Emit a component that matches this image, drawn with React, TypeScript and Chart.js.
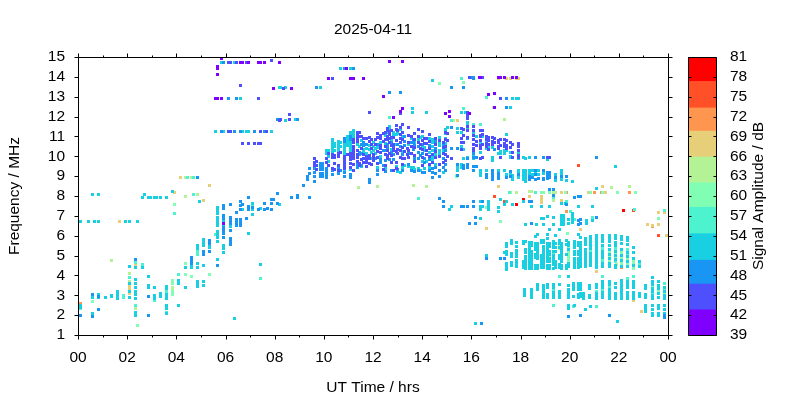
import React, { useEffect, useRef } from "react";
import { Chart, registerables } from "chart.js";

Chart.register(...registerables);

type Col = number[]; // [hour, MHz, MHz, ...]

const chartTitle = "2025-04-11";
const xTitle = "UT Time / hrs";
const yTitle = "Frequency / MHz";
const barTitle = "Signal Amplitude / dB";
const fontName = "'Liberation Sans', Arial, sans-serif";
const fontPx = 15.5;

const bandEdges = [39, 42.8, 46.7, 50.3, 54.3, 58.3, 62, 65.9, 69.8, 73.3, 77.3, 81];
const bandColours = ["#8000ff", "#4d50fc", "#1996f3", "#19cfe2", "#4df3ce", "#80ffb4", "#b3f396", "#e6cf78", "#ff9650", "#ff5028", "#ff0000"];

const band41: Col[] = [
  [5.83, 14.9], [6.6, 14.74], [6.68, 14.74], [6.93, 14.74], [7.34, 14.74], [7.42, 14.74], [7.58, 14.74], [8.18, 14.74],
  [5.67, 14.5, 14.4, 14.13], [7.95, 13.43], [5.59, 12.92], [5.67, 12.92], [5.83, 12.92], [12.67, 14.78], [13.2, 14.78],
  [10.92, 14.43], [10.19, 13.92], [11.08, 13.92], [11.2, 13.92], [11.61, 13.92], [16.33, 13.97], [8.68, 13.42], [12.42, 13.02],
  [13.2, 12.41], [13.12, 12.25], [14.96, 12.16], [15.1, 12.26, 12.01], [15.92, 12.16], [16.94, 12.46, 13.17], [16.37, 13.98],
  [17.1, 13.98], [17.18, 13.98], [17.35, 13.98], [17.67, 13.98], [17.83, 13.98], [16.7, 13.12], [12.83, 11.96], [5.92, 6.62],
];

const band45: Col[] = [
  [6.12, 14.74], [6.2, 14.74], [6.44, 14.74], [6.85, 14.74], [7.87, 14.83], [6.6, 13.58], [7.34, 12.92], [8.18, 11.82],
  [6.12, 11.26], [6.2, 11.26], [7.42, 11.26], [7.67, 11.26], [6.68, 10.66], [6.93, 10.66], [7.18, 10.66], [7.34, 10.66], [7.42, 10.66],
  [10.35, 13.92], [15.92, 13.95], [8.36, 13.42], [13.12, 12.17], [11.85, 12.21], [8.6, 12.11, 11.86], [8.22, 11.83], [17.18, 12.92], [16.45, 13.98],
  [9.62, 9.9, 9.7, 9.56], [9.7, 9.73, 9.56, 9.31], [10.1, 9.9, 9.7], [10.2, 10.15, 9.55], [10.35, 10.1, 9.95, 9.4],
  [10.45, 10.05, 9.95, 9.65, 9.35], [10.6, 10.15, 10.0, 9.55, 9.3], [10.67, 10.2], [10.85, 10.0, 9.85, 9.7, 9.55, 9.4], [10.95, 10.1],
  [11.1, 10.15, 10.0, 9.85, 9.65, 9.45], [11.2, 10.85, 10.7, 10.5, 10.35, 10.2, 10.05, 9.9, 9.6, 9.3], [11.37, 11.2, 11.05, 10.9, 10.75, 10.3, 10.1, 9.95, 9.75],
  [11.45, 11.2, 11.0, 9.65, 9.55], [11.6, 10.9, 10.1, 9.9, 9.7], [11.72, 10.9, 10.0, 9.85, 9.7, 9.5], [11.85, 10.95, 10.75, 10.05, 9.9, 9.65],
  [12.0, 10.1, 9.95, 9.8], [12.1, 10.85, 10.6], [12.3, 11.05, 10.9, 10.55, 10.4, 10.2], [12.42, 11.15, 10.75, 9.34],
  [12.6, 11.4, 11.3, 11.0, 10.85, 10.3, 10.05, 9.9], [12.68, 11.25, 11.1, 10.9, 10.7, 10.15], [12.85, 10.95, 10.6, 10.45, 10.3, 9.3],
  [13.0, 11.3, 10.35, 10.15], [13.12, 11.45, 11.1, 10.9, 10.7, 10.3, 9.95], [13.3, 10.25, 9.9], [13.4, 10.4, 10.1], [13.57, 11.0, 10.5, 10.15],
  [13.85, 11.35, 11.0, 10.7], [13.95, 10.6, 10.4], [14.1, 10.9, 10.65], [14.18, 10.9, 10.65, 10.3, 10.1], [14.4, 10.1, 9.7],
  [14.7, 10.8, 10.0, 9.6], [14.95, 11.2, 10.85, 10.5, 10.1, 9.8], [15.05, 11.15, 10.8, 10.0], [15.2, 9.9],
  [15.6, 11.4, 10.9, 10.7, 10.35], [15.7, 11.35, 11.05, 10.7], [15.85, 12.2, 12.05, 11.9, 11.5, 11.3, 10.95],
  [16.1, 11.5, 11.3, 11.05, 10.85, 10.6, 10.4, 10.3], [16.2, 10.75, 10.55], [16.37, 11.3, 11.05, 11.0, 10.8, 10.55, 10.4, 9.9], [16.45, 11.3, 11.1, 10.6, 9.95],
  [16.62, 11.0, 10.85, 10.65, 10.5], [16.7, 10.95, 10.8, 10.6, 10.35], [16.87, 10.95, 10.75, 10.6], [16.95, 10.9, 10.7],
  [17.1, 10.8, 10.7, 10.5, 10.4], [17.18, 10.85, 10.55, 9.93], [17.35, 10.85, 10.65, 10.5], [17.43, 10.8, 10.55, 10.4],
  [17.6, 10.7, 10.45], [17.67, 10.6, 10.2, 9.95], [17.92, 10.65, 10.5, 10.3, 10.05, 9.95], [19.1, 9.93], [19.18, 9.93],
  [11.55, 11.0, 10.4, 9.85], [11.95, 10.85, 10.6, 10.4, 9.6], [12.2, 11.15, 10.95, 10.25, 9.95, 9.65], [12.5, 11.2, 10.85, 10.5, 10.1, 9.55],
  [12.75, 11.3, 10.95, 10.55, 10.05, 9.7], [12.95, 11.55, 11.35, 10.8, 10.25, 9.7, 9.4], [13.2, 11.6, 11.2, 10.85, 10.45, 9.9, 9.6], [13.45, 11.45, 11.05, 10.7, 10.3, 9.95],
  [13.7, 11.15, 10.85, 10.45, 10.05, 9.75], [14.0, 11.25, 10.8, 10.35, 9.95, 9.55], [14.3, 11.1, 10.75, 10.4, 10.0, 9.6], [14.55, 10.9, 10.6, 10.25, 9.95], [14.85, 10.7, 10.45, 10.15, 9.7],
];

const band48: Col[] = [
  [6.44, 12.92], [6.12, 12.92], [8.13, 11.87], [5.83, 11.26], [6.36, 11.26], [6.6, 11.26], [7.18, 11.26], [7.58, 11.26],
  [4.86, 8.95], [5.92, 14.74], [10.84, 14.43], [11.2, 14.43], [16.09, 13.92], [13.12, 13.22], [9.7, 13.45], [15.19, 13.45], [15.68, 13.45], [8.93, 11.86], [12.67, 13.22],
  [15.95, 13.98], [16.09, 13.95], [17.43, 12.92, 12.47], [17.43, 12.46],
  [8.68, 7.93], [8.93, 8.03, 7.93], [9.41, 7.93], [9.17, 8.54], [9.33, 8.97, 8.81], [9.41, 9.39, 9.14], [9.62, 9.39, 9.18, 8.97, 8.74],
  [9.86, 9.64, 9.47, 9.31, 9.14, 8.97], [9.94, 9.64, 9.47, 9.31, 9.14, 8.97], [10.1, 9.4, 9.25, 9.1, 8.95], [10.35, 9.3, 9.1], [10.6, 9.45, 9.15], [10.67, 9.3],
  [10.85, 10.9, 10.75, 9.2, 9.0], [11.1, 11.0, 10.85, 9.1, 8.95], [11.37, 9.6, 9.45], [11.45, 10.2, 10.1], [11.6, 10.7, 10.55], [11.72, 10.6], [11.85, 8.84, 8.7], [12.1, 9.9],
  [12.3, 9.85, 9.7], [12.42, 10.3, 9.55], [12.6, 10.6, 10.45], [12.68, 9.85], [12.85, 10.1, 9.85], [13.0, 10.6, 9.35], [13.12, 10.5], [13.3, 11.0, 10.75, 10.55],
  [13.57, 10.7, 9.3], [13.65, 10.85, 10.7, 10.35], [13.85, 10.5, 10.2, 9.9, 9.3], [13.95, 10.05], [14.1, 9.9, 9.7, 9.2], [14.4, 9.4, 9.2, 8.95], [14.7, 9.3, 9.0],
  [14.95, 10.3, 9.6, 9.3], [15.2, 11.45, 10.4], [15.43, 10.4, 9.6, 9.05], [15.7, 9.55, 9.4], [15.85, 10.9, 9.9, 9.6, 9.45], [16.1, 10.15, 9.5, 9.3, 9.93], [16.2, 9.93, 9.5],
  [16.37, 9.9], [16.62, 9.1, 8.95], [16.87, 9.3, 9.15, 9.0, 8.85], [16.95, 10.35], [17.1, 9.15, 9.0, 8.9], [17.43, 8.95], [17.6, 9.25, 9.0], [17.92, 9.1],
  [18.36, 9.0, 8.85], [18.5, 8.95], [18.6, 9.93, 9.3, 9.1, 8.85], [18.75, 8.87], [18.93, 9.95, 9.28, 8.9, 8.85], [19.1, 9.2, 9.05, 8.9], [19.18, 9.2, 9.1, 8.95], [19.42, 8.95],
  [19.67, 9.0], [19.87, 9.0], [21.1, 9.93],
  [14.69, 7.88], [14.86, 7.73, 7.48], [15.59, 7.48], [15.67, 7.48], [15.83, 7.48], [16.08, 7.73, 7.48], [16.44, 7.73], [16.16, 6.64], [15.91, 6.59], [16.17, 6.9], [16.6, 4.87], [17.18, 4.87], [17.34, 4.87],
  [16.09, 7.74, 7.49], [16.45, 7.74], [18.36, 7.74], [18.44, 7.74, 6.6], [19.34, 8.02, 8.34], [19.18, 8.34], [20.2, 7.9], [20.44, 8.0], [20.36, 7.95], [19.87, 7.55], [20.36, 6.75, 6.55], [20.44, 6.8, 6.6], [21.1, 6.9],
  [0.1, 2.0], [0.58, 1.95], [0.83, 2.3], [0.58, 3.02], [0.83, 2.95], [2.33, 4.8], [2.86, 2.95, 2.0], [4.6, 4.9, 4.75, 4.6], [5.09, 5.2, 5.05], [5.33, 5.75, 5.6, 5.2], [5.67, 4.5],
  [5.92, 7.5, 7.35, 7.0, 6.85, 6.4, 6.25, 6.1, 5.9], [6.2, 7.58, 6.9, 6.75, 6.6, 6.25, 5.85, 5.7, 5.55], [6.44, 7.15, 6.8, 6.65, 6.5], [6.6, 7.7, 7.5, 7.3, 6.8, 6.65, 6.5], [6.68, 7.58],
  [6.85, 6.85], [6.93, 7.93, 7.45, 7.3], [7.1, 7.4], [7.34, 7.3], [7.58, 7.6, 7.3], [7.7, 7.35], [7.87, 7.8, 7.6, 7.3], [7.95, 7.83], [8.13, 8.13, 7.6],
  [19.95, 1.95], [20.44, 2.0], [21.6, 1.97], [23.85, 1.9, 2.0], [16.4, 1.6],
  [11.55, 10.6, 10.15, 9.55], [12.2, 10.6, 9.3, 9.1], [12.5, 10.3, 9.8, 9.25], [12.75, 10.7, 10.2, 9.3], [13.2, 10.1, 9.3], [13.45, 10.15, 9.6], [13.7, 10.55, 9.9, 9.25],
  [14.0, 10.6, 10.15, 9.2], [14.3, 10.55, 9.85, 9.3], [14.55, 10.75, 10.4, 9.45, 9.15], [14.85, 10.6, 9.9, 9.45],
];

const band52: Col[] = [
  [5.83, 14.74], [6.36, 14.74], [6.6, 12.92], [8.18, 13.48], [5.59, 11.26], [5.92, 11.26], [6.68, 11.26], [6.85, 11.26], [6.93, 11.26], [7.87, 11.26],
  [10.67, 14.43], [11.08, 14.43], [14.42, 13.82], [8.22, 13.45], [8.44, 13.45], [9.86, 13.45], [13.6, 12.41, 12.21], [14.17, 12.21], [15.6, 12.21], [15.76, 12.21],
  [8.44, 11.81], [8.84, 11.86], [17.67, 12.92], [17.84, 12.92], [17.92, 12.92], [17.59, 12.46],
  [10.1, 10.3, 10.15], [10.2, 10.3, 10.0, 9.75], [10.35, 10.85, 10.7, 10.55, 10.4, 10.25], [10.45, 10.65, 10.5, 10.3], [10.6, 10.75, 10.6, 10.45, 10.3], [10.67, 10.7, 10.5],
  [10.85, 10.6, 10.45, 10.3, 10.15, 9.3], [10.95, 11.0, 10.85, 10.7, 10.55], [11.1, 11.2, 11.05, 10.9, 10.75, 10.6, 10.45, 10.3, 9.35], [11.2, 11.3, 11.15, 11.0], [11.37, 10.6], [11.45, 10.5],
  [11.6, 10.35, 10.25], [11.72, 10.4, 10.15], [11.85, 10.55, 10.35], [12.0, 10.7, 10.5, 10.3], [12.1, 10.4, 10.15], [12.3, 10.7, 10.0], [12.6, 11.2], [12.68, 11.5, 11.4],
  [12.85, 11.2, 11.1], [13.0, 11.15, 9.25], [13.12, 11.35, 9.2], [13.3, 9.55], [13.57, 10.9, 9.45], [13.65, 9.45], [13.85, 10.85, 9.4], [13.95, 10.95, 9.3], [14.1, 10.45, 10.3, 9.4],
  [14.18, 9.75], [14.4, 10.85, 10.7, 10.5, 10.3, 10.0, 9.85], [14.7, 10.95, 10.7, 10.55, 10.3, 10.15], [14.95, 11.35, 11.15, 10.9, 10.65, 10.35], [15.05, 11.45], [15.2, 11.45],
  [15.43, 11.4, 11.2, 9.45, 9.3], [15.6, 11.2, 10.5, 9.6, 9.45], [15.7, 10.35, 9.9], [15.85, 11.7, 11.55, 11.4, 9.95], [16.1, 11.2, 10.0, 9.9], [16.2, 11.0], [16.37, 10.7, 10.2, 9.3, 9.15, 9.05], [16.45, 11.0],
  [16.62, 10.7, 10.4, 9.3, 9.1], [16.7, 10.5], [16.87, 10.45, 9.95, 9.8], [17.1, 10.15, 9.3], [17.18, 10.25, 10.15], [17.35, 10.3, 10.15, 9.3], [17.43, 10.3, 9.1, 11.11], [17.6, 10.2, 10.0, 9.95, 9.15],
  [17.67, 9.05, 8.9, 8.85], [17.92, 10.2, 9.9, 9.3, 9.15, 8.95], [18.12, 9.95, 9.3, 9.15, 9.0, 8.85], [18.2, 9.9, 9.3, 9.15, 9.0, 8.85, 8.75], [18.36, 9.95, 9.3, 9.15], [18.5, 9.3, 9.1],
  [18.6, 9.15], [18.75, 9.28, 9.1], [18.93, 9.15], [19.1, 9.82], [19.42, 9.1, 8.8], [19.67, 9.3, 9.15, 8.85], [19.87, 8.77], [20.1, 8.75], [21.86, 9.5], [21.1, 8.39],
  [15.18, 7.48], [15.1, 7.33], [16.36, 7.73, 7.33, 6.88], [16.44, 7.48], [16.69, 7.73, 7.6, 7.48, 7.33], [17.18, 7.84], [17.42, 7.73, 5.52], [17.1, 7.43, 7.23], [17.34, 5.15], [16.6, 5.0],
  [16.37, 7.74, 7.49], [16.45, 7.49], [18.12, 7.74], [17.35, 7.55], [17.67, 7.55], [18.44, 7.49], [18.85, 7.49], [19.18, 7.49], [19.67, 7.6], [19.82, 7.6], [20.36, 7.49], [20.93, 7.49],
  [17.1, 7.43, 7.24], [18.2, 6.58], [18.65, 6.58], [18.85, 6.85], [18.93, 6.85, 6.58], [19.1, 6.95], [19.34, 6.9, 6.58], [19.67, 7.0, 6.85, 6.7, 6.55], [19.75, 7.0, 6.85, 6.7, 6.55], [19.95, 6.8, 6.6], [20.1, 7.1, 6.95, 6.8, 6.65], [20.7, 6.75, 6.6], [20.93, 6.75],
  [19.18, 6.3], [19.58, 6.3], [20.36, 6.05], [18.7, 6.05],
  [17.43, 5.6, 5.45, 5.2, 5.05, 4.6, 4.45, 4.32], [17.62, 5.75, 5.62, 5.1, 4.95, 4.65, 4.5], [17.84, 5.65, 5.45, 5.25, 5.1, 4.95, 4.75, 4.6, 4.45], [18.12, 5.7, 5.6, 4.7, 4.55, 4.4],
  [18.2, 5.7, 5.3, 5.15, 4.95, 4.8, 4.65, 4.5, 4.35], [18.36, 5.65, 5.5, 5.35, 5.2, 5.05, 4.9, 4.75, 4.6, 4.45, 4.35], [18.44, 5.65, 5.5, 5.2, 5.05, 4.9, 4.75, 4.6, 4.45, 4.35],
  [18.6, 5.95, 5.6, 5.45, 5.3, 5.05, 4.9, 4.5, 4.35], [18.7, 5.6, 5.45, 5.3, 5.15, 5.0, 4.85, 4.5, 4.35], [18.85, 5.75, 5.65, 5.0, 4.85, 4.7, 4.55, 4.4],
  [18.93, 5.75, 5.65, 5.45, 5.3, 5.15, 5.0, 4.85, 4.7, 4.55, 4.4], [19.1, 6.05, 5.85, 5.6, 5.45, 5.3, 5.15, 5.0, 4.85, 4.7, 4.5, 4.35], [19.18, 5.6, 5.45, 5.2, 5.05, 4.85, 4.7, 4.5, 4.35],
  [19.34, 5.7, 5.55, 5.4, 5.2, 5.0, 4.85, 4.7, 4.55, 4.35], [19.42, 6.0, 5.6, 5.4, 5.2, 4.7, 4.55, 4.4], [19.6, 5.75, 5.6, 5.4, 5.0, 4.85, 4.55, 4.4],
  [19.67, 5.6, 5.45, 5.3, 5.15, 5.0, 4.85, 4.7, 4.5, 4.35], [19.87, 5.75, 5.55, 5.05, 4.5, 4.35], [19.95, 5.65, 5.5, 5.3, 4.6, 4.45],
  [20.2, 5.7, 5.55, 5.4, 5.2, 5.05, 4.85, 4.7, 4.55, 4.4], [20.36, 5.65, 5.5, 5.2, 5.05, 4.85, 4.7, 4.55, 4.4], [20.45, 5.9, 5.65, 5.5, 5.35, 5.2, 5.05, 4.9, 4.75, 4.6, 4.45],
  [20.66, 5.85, 5.7, 5.55, 5.3, 5.15, 5.0, 4.85, 4.7, 4.55, 4.45], [20.85, 5.95, 5.8, 5.65, 5.5, 5.35, 5.1, 4.95, 4.8, 4.65, 4.5],
  [21.1, 6.0, 5.85, 5.7, 5.55, 5.4, 5.25, 5.1, 4.95, 4.8, 4.65, 4.5, 4.4], [21.34, 6.0, 5.85, 5.7, 5.5, 5.2, 5.05, 4.9, 4.6, 4.45],
  [21.6, 6.0, 5.85, 5.7, 5.5, 5.3, 5.05, 4.85, 4.6, 4.45], [21.86, 6.0, 5.85, 5.65, 5.5, 5.2, 5.0, 4.8, 4.5, 4.4],
  [22.1, 5.95, 5.8, 5.6, 5.3, 5.0, 4.75, 4.45], [22.35, 5.9, 5.75, 5.55, 5.15, 4.95, 4.7, 4.45], [22.6, 5.4, 5.15, 4.85, 4.5],
  [22.84, 4.7, 4.45],
  [18.15, 3.27, 3.12, 3.0], [18.43, 3.27, 3.12, 3.0, 2.9], [18.69, 3.55, 3.4, 3.3], [18.93, 3.5, 3.35, 3.2, 3.05, 2.9], [19.1, 3.55, 3.4, 3.05, 2.9],
  [19.34, 3.55, 3.4, 3.15, 3.0, 2.9], [19.58, 3.55, 3.2, 3.05, 2.9], [19.95, 3.95, 3.5, 3.3, 3.15, 3.0, 2.9], [20.15, 3.6, 3.45, 3.3, 2.95], [20.36, 3.6, 3.45, 3.3, 3.05, 2.9],
  [20.56, 3.1, 2.95, 2.85], [20.8, 3.5, 3.35, 3.0, 2.88], [20.45, 3.6, 3.45, 3.3, 3.1, 2.95], [21.1, 3.55, 3.4, 3.1, 2.95, 2.85], [21.34, 3.7, 3.55, 3.4, 3.15, 3.0, 2.9],
  [21.6, 3.7, 3.55, 3.3, 3.15, 3.0, 2.85], [21.86, 3.6, 3.4, 3.1, 2.95, 2.85], [22.1, 3.75, 3.6, 3.45, 3.3, 3.15, 3.0, 2.85], [22.35, 3.7, 3.55, 3.4, 3.15, 3.0, 2.85],
  [22.6, 3.7, 3.55, 3.4, 3.15, 3.0, 2.85], [22.84, 3.1, 2.95], [23.08, 3.5, 3.35, 3.05, 2.9], [23.37, 3.9, 3.7, 3.55, 3.35, 3.2, 3.0, 2.85], [23.6, 3.7, 3.5, 3.35, 3.1, 2.9], [23.85, 3.4, 3.2, 3.0, 2.85],
  [19.95, 2.5, 2.35], [20.2, 2.5], [20.66, 2.3], [20.85, 2.45], [21.95, 1.7], [16.17, 1.6], [23.08, 2.5, 2.35, 2.2], [23.37, 2.5, 2.3, 2.1, 2.0], [23.6, 2.5, 2.35, 2.1, 2.0], [23.85, 2.5, 2.3, 2.1],
  [0.58, 8.08], [0.83, 8.08], [2.62, 7.93], [2.7, 8.08], [2.85, 7.93], [2.95, 7.93], [3.1, 7.93], [3.2, 7.93], [3.35, 7.93], [3.6, 7.93], [3.84, 8.22], [4.94, 7.73],
  [0.1, 6.72], [0.42, 6.72], [0.67, 6.72], [0.83, 6.72], [1.93, 6.72], [2.09, 6.72], [2.42, 6.72], [2.09, 4.46], [2.33, 4.4], [2.62, 4.4], [2.86, 3.95], [2.09, 3.6, 3.2, 2.9],
  [2.33, 3.77, 3.6, 3.4, 3.2, 3.05, 2.85], [0.58, 3.0, 2.9], [0.83, 3.05, 2.9], [1.11, 2.9], [1.36, 3.0, 2.92], [1.6, 3.2, 3.05, 2.95, 2.85], [2.86, 3.5, 3.4], [3.1, 3.38, 3.0, 2.85],
  [3.35, 3.1, 2.95], [3.6, 3.45, 3.33, 3.05, 2.95, 2.85], [4.08, 3.75, 3.6], [4.37, 3.4], [4.08, 2.48], [4.37, 4.4], [4.6, 4.75, 4.6, 4.5, 4.4], [4.85, 5.5, 5.35, 4.6, 4.4, 3.7, 3.45, 3.55],
  [5.09, 5.8, 5.65, 5.5, 4.5, 3.7, 3.5], [5.33, 5.55, 5.4], [5.67, 7.4, 7.25, 7.1, 6.9, 6.75, 6.6, 6.5, 6.2, 6.05, 5.9, 5.7, 4.8], [5.92, 6.7, 6.55, 5.5, 5.35, 5.15], [6.2, 6.45],
  [6.68, 7.3], [7.1, 7.6, 7.3, 7.05], [7.42, 7.35], [8.13, 8.13], [8.18, 7.58], [6.93, 6.1], [7.42, 4.56], [6.36, 1.84],
  [0.1, 2.5, 2.4], [0.58, 2.1], [2.33, 2.15, 2.0], [3.6, 2.5, 2.35], [3.6, 2.1],
  [11.55, 10.8, 9.5], [11.95, 10.2, 9.9], [12.2, 10.45, 9.45], [12.5, 11.05, 10.65, 9.4], [12.75, 10.8, 10.35], [12.95, 11.1, 10.6, 9.5], [13.2, 11.0, 10.25, 9.45],
  [13.45, 10.6, 9.5], [13.7, 10.7, 9.35], [14.0, 11.0, 10.5, 9.75], [14.3, 10.9, 10.2, 9.45], [14.55, 10.1, 9.6], [14.85, 10.3, 9.2],
];

const band56: Col[] = [
  [4.45, 8.95], [4.69, 8.95], [15.6, 13.92], [16.61, 12.97], [15.19, 11.8], [15.68, 12.41], [12.67, 11.96], [4.69, 8.08], [3.92, 7.13], [2.95, 7.93], [3.35, 7.93], [7.1, 7.5],
  [2.09, 3.9], [2.33, 4.65], [2.62, 4.55], [13.84, 7.88], [17.54, 8.19], [18.6, 8.2], [19.34, 7.9], [19.87, 7.74], [20.05, 7.24], [22.65, 7.32], [23.86, 7.28], [20.2, 6.8], [20.93, 6.9],
  [1.84, 3.0, 2.9], [4.08, 4.05], [4.85, 5.2, 5.05], [5.59, 6.07], [2.33, 2.5], [3.1, 2.75], [3.6, 2.15], [7.42, 3.85], [3.6, 3.2],
  [0.1, 2.35], [19.34, 2.5], [19.58, 3.95], [20.15, 2.45], [21.34, 3.94], [22.6, 3.94], [21.1, 2.45], [22.35, 3.85], [20.66, 5.15], [21.1, 5.3, 4.75], [21.34, 5.95, 5.35, 4.75],
  [19.34, 5.1, 4.9], [18.36, 5.35, 5.2], [18.12, 4.45], [18.7, 4.95], [21.86, 5.35, 4.7], [22.35, 5.3, 5.05], [22.84, 4.6], [20.85, 5.2], [19.67, 5.3], [23.37, 3.3, 3.15], [23.85, 3.6, 3.3],
  [21.6, 3.4], [22.1, 3.0], [18.93, 3.2], [19.34, 3.3], [19.95, 3.2], [21.34, 3.3], [16.36, 11.6], [16.09, 11.58],
  [20.2, 5.55, 4.7], [20.45, 5.35, 4.75], [20.85, 5.65, 4.8], [21.1, 5.7, 4.5], [21.34, 5.5, 5.05], [21.6, 5.7, 5.3], [21.86, 5.85, 5.0], [22.1, 5.6, 4.75], [22.35, 5.55, 4.95],
  [22.6, 5.15, 4.5], [22.84, 4.45], [21.1, 3.2], [21.6, 3.0], [22.1, 3.3], [22.35, 3.15], [22.6, 3.4], [23.37, 3.0], [23.85, 2.95], [19.1, 4.85], [18.93, 5.3], [18.44, 4.9], [19.6, 5.0], [20.15, 3.3], [20.8, 3.0],
];

const band60: Col[] = [
  [14.7, 13.67], [15.68, 13.72], [18.36, 9.95], [18.6, 8.19], [18.85, 8.19], [18.93, 8.19], [19.85, 8.19], [20.85, 8.19], [21.33, 8.19], [21.95, 8.19], [22.68, 8.19], [17.18, 6.73], [19.9, 6.1],
  [2.42, 1.5], [0.58, 2.7], [4.37, 4.6], [4.37, 4.05], [4.6, 3.97], [5.33, 4.05], [3.92, 7.58], [3.83, 3.75, 3.6, 3.2, 3.05], [15.4, 9.0], [16.6, 7.43], [19.95, 5.35, 5.2, 5.05, 4.9, 4.75],
  [18.93, 5.15], [19.18, 5.15, 5.0], [19.1, 5.1, 4.95], [21.34, 5.3, 5.15, 4.95], [21.6, 5.15, 4.95, 4.7], [21.86, 5.1, 4.9], [22.1, 5.2, 5.1, 4.9, 4.6], [22.35, 4.85, 4.6], [22.6, 4.75, 4.6, 4.35],
  [21.1, 5.0], [20.85, 4.65], [20.45, 4.6], [23.6, 6.85, 3.2], [23.37, 3.45], [19.18, 8.2], [23.85, 3.1],
];

const band64: Col[] = [
  [4.37, 8.95], [4.61, 8.95], [14.16, 8.49], [16.92, 12.47], [17.34, 11.86], [15.27, 11.8], [13.64, 8.55], [1.36, 4.76], [3.83, 3.4, 3.3], [4.37, 7.98], [4.86, 8.08], [2.09, 4.1, 3.7],
  [2.33, 2.35], [17.6, 8.19], [17.84, 8.19], [18.36, 8.25], [18.44, 8.25], [18.85, 8.19], [19.34, 8.19, 7.75], [19.42, 8.19], [21.7, 8.45], [22.43, 8.47], [19.58, 5.5, 5.35], [19.95, 5.0],
  [21.9, 4.55], [20.66, 5.1], [16.7, 7.43], [15.4, 9.05], [11.4, 8.42], [12.2, 8.5], [21.34, 4.85],
];

const band68: Col[] = [
  [4.17, 8.95], [5.35, 8.55], [1.68, 6.72], [3.92, 8.2], [5.1, 7.78], [2.09, 3.5, 3.35, 3.1], [2.33, 4.5], [17.1, 13.9, 8.47], [17.43, 13.9], [17.59, 13.9], [17.83, 13.9], [17.92, 13.9], [15.43, 11.8],
  [19.67, 8.19, 7.75], [20.75, 8.19], [21.33, 8.47], [21.45, 8.19], [18.36, 8.0], [18.85, 7.95, 7.8, 7.65], [16.6, 6.34], [20.44, 6.3], [23.18, 6.55], [23.61, 7.19, 6.55], [23.35, 6.5], [23.86, 7.19], [23.92, 6.0],
  [21.1, 4.2], [22.92, 2.2], [22.6, 2.75], [21.34, 5.05], [22.6, 4.4], [21.35, 4.95], [20.66, 4.6],
];

const band72: Col[] = [[0.1, 2.6], [19.87, 8.19, 7.24], [21.3, 8.19], [22.43, 8.19], [16.69, 7.5], [20.66, 4.65], [23.37, 6.45], [22.1, 4.4], [21.0, 8.19]];
const band75: Col[] = [[16.94, 8.0], [20.36, 9.54], [17.35, 7.73], [22.6, 7.29], [23.61, 6.02]];
const band79: Col[] = [[18.12, 7.84], [17.84, 7.55], [17.36, 7.73], [22.19, 7.29]];

const bandData = [band41, band45, band48, band52, band56, band60, band64, band68, band72, band75, band79];
const hourTicks = Array.from({ length: 25 }, (_, i) => i);

function flatten(cols: Col[]) {
  const out: { x: number; y: number }[] = [];
  for (const c of cols) for (let i = 1; i < c.length; i++) out.push({ x: c[0], y: c[i] });
  return out;
}

const snapPlugin = {
  id: "snapMarks",
  afterDatasetsUpdate(chart: any) {
    chart.data.datasets.forEach((_: any, i: number) => {
      for (const el of chart.getDatasetMeta(i).data) {
        el.x = Math.floor(el.x) + 0.5;
        el.y = Math.floor(el.y) + 0.5;
      }
    });
  },
};

const framePlugin = {
  id: "frame",
  afterDraw(chart: any) {
    const { ctx, chartArea: a, scales } = chart;
    const x = scales.x, y = scales.y;
    const L = Math.round(a.left) + 0.5, R = Math.round(a.right) + 0.5, T = Math.round(a.top) + 0.5, B = Math.round(a.bottom) + 0.5;
    ctx.save();
    ctx.strokeStyle = "#000";
    ctx.lineWidth = 1;
    ctx.beginPath();
    ctx.rect(L, T, R - L, B - T);
    for (const h of hourTicks) {
      const p = Math.round(x.getPixelForValue(h)) + 0.5;
      const len = h % 2 === 0 ? 4 : 2;
      ctx.moveTo(p, T); ctx.lineTo(p, T - len);
      ctx.moveTo(p, B); ctx.lineTo(p, B + len);
    }
    for (let f = 1; f <= 15; f++) {
      const p = Math.round(y.getPixelForValue(f)) + 0.5;
      ctx.moveTo(L, p); ctx.lineTo(L - 4, p);
      ctx.moveTo(R, p); ctx.lineTo(R + 4, p);
    }
    ctx.stroke();
    ctx.restore();
  },
};

const barFramePlugin = {
  id: "barFrame",
  afterDraw(chart: any) {
    const { ctx, chartArea: a, scales } = chart;
    const y = scales.y;
    const L = Math.round(a.left) + 0.5, R = Math.round(a.right) + 0.5, T = Math.round(a.top) + 0.5, B = Math.round(a.bottom) + 0.5;
    ctx.save();
    ctx.strokeStyle = "#000";
    ctx.lineWidth = 1;
    ctx.beginPath();
    ctx.rect(L, T, R - L, B - T);
    for (const t of y.ticks) {
      const p = Math.round(y.getPixelForValue(t.value)) + 0.5;
      ctx.moveTo(L, p); ctx.lineTo(L + 3, p);
      ctx.moveTo(R, p); ctx.lineTo(R - 3, p);
    }
    ctx.stroke();
    ctx.fillStyle = "#000";
    ctx.font = `${fontPx}px ${fontName}`;
    ctx.textAlign = "center";
    ctx.textBaseline = "middle";
    ctx.translate(91, 196);
    ctx.rotate(-Math.PI / 2);
    ctx.fillText(barTitle, 0, 0);
    ctx.restore();
  },
};

export default function App() {
  const mainRef = useRef<HTMLCanvasElement>(null);
  const barRef = useRef<HTMLCanvasElement>(null);

  useEffect(() => {
    const font = { family: fontName, size: fontPx };
    const main = new Chart(mainRef.current!, {
      type: "scatter",
      data: {
        datasets: bandData.map((cols, i) => ({
          label: `${bandEdges[i]}-${bandEdges[i + 1]} dB`,
          data: flatten(cols),
          pointStyle: "rect",
          pointRadius: 2.1213,
          pointBorderWidth: 0,
          backgroundColor: bandColours[i],
          borderColor: bandColours[i],
        })),
      },
      options: {
        responsive: false,
        animation: false,
        layout: { padding: { left: 0, right: 132, top: 0, bottom: 0 } },
        plugins: {
          legend: { display: false },
          tooltip: { enabled: false },
          title: {
            display: true,
            text: chartTitle,
            color: "#000",
            fullSize: false,
            font: { ...font, weight: "normal" },
            padding: { top: 20, bottom: 18.4 },
          },
        },
        scales: {
          x: {
            type: "linear",
            min: 0,
            max: 24,
            afterFit: (s: any) => { s.height = 65; },
            grid: { display: false, drawTicks: false },
            border: { display: false },
            title: { display: true, text: xTitle, color: "#000", font, padding: { top: 0, bottom: 3 } },
            ticks: {
              stepSize: 2,
              autoSkip: false,
              maxRotation: 0,
              padding: 13,
              color: "#000",
              font,
              callback: (v: any) => String(Number(v) % 24).padStart(2, "0"),
            },
          },
          y: {
            type: "linear",
            min: 1,
            max: 15,
            afterFit: (s: any) => { s.width = 78; },
            grid: { display: false, drawTicks: false },
            border: { display: false },
            title: { display: true, text: yTitle, color: "#000", font, padding: { top: 5, bottom: 0 } },
            ticks: { stepSize: 1, autoSkip: false, padding: 13, color: "#000", font },
          },
        },
      },
      plugins: [snapPlugin, framePlugin],
    } as any);

    const bar = new Chart(barRef.current!, {
      type: "bar",
      data: {
        labels: ["dB"],
        datasets: bandColours.map((c, i) => ({
          label: `${bandEdges[i]}-${bandEdges[i + 1]}`,
          data: [[bandEdges[i], bandEdges[i + 1]]],
          backgroundColor: c,
          borderWidth: 0,
          grouped: false,
          barPercentage: 1,
          categoryPercentage: 1,
        })),
      },
      options: {
        responsive: false,
        animation: false,
        layout: { padding: { left: 20, right: 0, top: 57, bottom: 65 } },
        plugins: { legend: { display: false }, tooltip: { enabled: false } },
        scales: {
          x: { display: false },
          y: {
            position: "right",
            min: 39,
            max: 81,
            afterFit: (s: any) => { s.width = 84; },
            grid: { display: false, drawTicks: false },
            border: { display: false },
            ticks: { stepSize: 3, autoSkip: false, padding: 14, color: "#000", font },
          },
        },
      },
      plugins: [barFramePlugin],
    } as any);

    return () => {
      main.destroy();
      bar.destroy();
    };
  }, []);

  return (
    <div style={{ position: "absolute", left: 0, top: 0, width: 800, height: 400, background: "#fff" }}>
      <canvas ref={mainRef} width={800} height={400} style={{ position: "absolute", left: 0, top: 0 }} />
      <canvas ref={barRef} width={132} height={400} style={{ position: "absolute", left: 668, top: 0 }} />
    </div>
  );
}
